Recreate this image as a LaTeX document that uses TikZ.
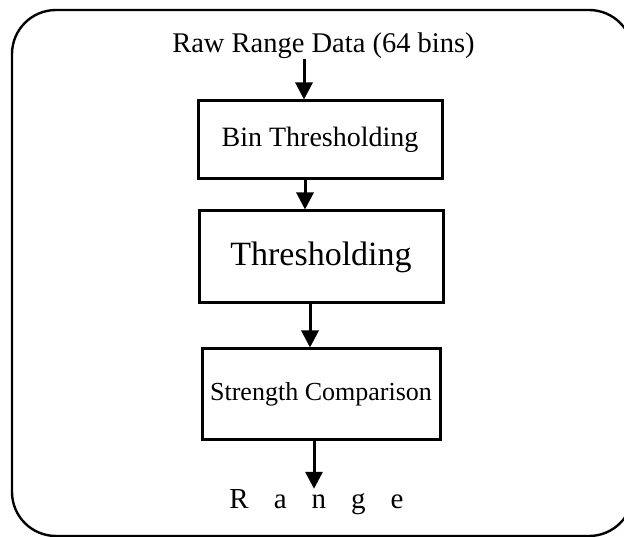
\documentclass[tikz,border=0pt]{standalone}
\usepackage{fontspec}
\setmainfont{Liberation Serif}
\usetikzlibrary{arrows.meta}

\begin{document}
\begin{tikzpicture}[x=1pt, y=-1pt,
  stagebox/.style={draw, line width=3pt, inner sep=0pt},
  flow/.style={line width=3pt, -{Triangle[length=17pt, width=17pt]}}]

\useasboundingbox (0,0) rectangle (624,537);

\begin{scope}
\clip (0,0) rectangle (624,537);
\draw [line width=2.4pt, rounded corners=44pt] (12,10) rectangle (633,536);
\end{scope}


\node [anchor=base, inner sep=0pt, font={\fontsize{28.5}{28.5}\selectfont}] (rawdata)
 at (323.5, 53) {Raw Range Data (64 bins)};

\node [stagebox, minimum width=244pt, minimum height=78pt,
font={\fontsize{28}{28}\selectfont}] (binthresh)
 at (320, 140) {Bin Thresholding};

\node [stagebox, minimum width=244pt, minimum height=92pt,
font={\fontsize{34}{34}\selectfont}] (thresh)
 at (321, 257) {Thresholding};

\node [stagebox, minimum width=238pt, minimum height=90pt,
font={\fontsize{26}{26}\selectfont}] (strength)
 at (321, 394) {Strength Comparison};

\node [anchor=base, inner sep=0pt, font={\fontsize{29}{29}\selectfont}] (range)
 at (316.5, 508) {R\hspace{25pt}a\hspace{25pt}n\hspace{25pt}g\hspace{25pt}e};


\draw [flow] ([xshift=-19.5pt]rawdata.south) -- ([xshift=-16pt]binthresh.north);
\draw [flow] ([xshift=-15pt]binthresh.south) -- ([xshift=-16pt]thresh.north);
\draw [flow] ([xshift=-11pt]thresh.south) -- ([xshift=-11pt]strength.north);
\draw [flow] ([xshift=-7pt]strength.south) -- ([xshift=-2.5pt]range.north);

\end{tikzpicture}
\end{document}
